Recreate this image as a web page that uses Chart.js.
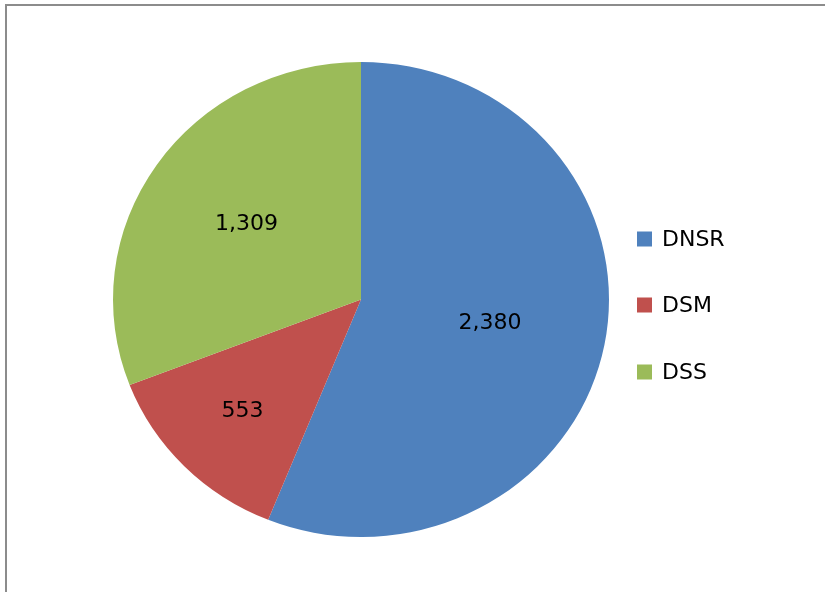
<!DOCTYPE html>
<html>
<head>
<meta charset="utf-8">
<script src="https://cdn.jsdelivr.net/npm/chart.js@4/dist/chart.umd.min.js"></script>
<style>
  html, body { margin: 0; padding: 0; background: #fff; }
  #wrap { position: relative; width: 825px; height: 592px; }
</style>
</head>
<body>
<div id="wrap"><canvas id="c"></canvas></div>
<script>
const categories = ['DNSR', 'DSM', 'DSS'];
const values = [2380, 553, 1309];
const colors = ['#4F81BD', '#C0504D', '#9BBB59'];

const STRETCH_X = 248 / 237.5;
const LABEL_FRACTION = [0.53, 0.67, 0.56];
const FONT = '22px "DejaVu Sans", "Liberation Sans", sans-serif';

const stretchPlugin = {
  id: 'stretch',
  beforeDatasetsDraw(chart) {
    const a = chart.chartArea;
    const cx = (a.left + a.right) / 2, cy = (a.top + a.bottom) / 2;
    const ctx = chart.ctx;
    ctx.save();
    ctx.translate(cx, cy);
    ctx.scale(STRETCH_X, 1);
    ctx.translate(-cx, -cy);
  },
  afterDatasetsDraw(chart) {
    chart.ctx.restore();
  }
};

const labelsPlugin = {
  id: 'labels',
  afterDraw(chart) {
    const ctx = chart.ctx;
    const meta = chart.getDatasetMeta(0);
    ctx.save();
    ctx.font = FONT;
    ctx.fillStyle = '#000';
    ctx.textAlign = 'center';
    ctx.textBaseline = 'middle';
    meta.data.forEach((arc, i) => {
      const p = arc.getProps(['x', 'y', 'startAngle', 'endAngle', 'outerRadius'], true);
      const mid = (p.startAngle + p.endAngle) / 2;
      const r = p.outerRadius * LABEL_FRACTION[i];
      const x = p.x + Math.cos(mid) * r * STRETCH_X;
      const y = p.y + Math.sin(mid) * r;
      ctx.fillText(values[i].toLocaleString('en-US'), x, y);
    });
    // legend
    const lx = 637, ly = [239, 305, 372];
    categories.forEach((name, i) => {
      ctx.fillStyle = colors[i];
      ctx.fillRect(lx, ly[i] - 7.5, 15, 15);
      ctx.fillStyle = '#000';
      ctx.textAlign = 'left';
      ctx.fillText(name, 662, ly[i] + 1);
    });
    // frame
    ctx.strokeStyle = '#8c8c8c';
    ctx.lineWidth = 2;
    ctx.strokeRect(6, 5, 840, 610);
    ctx.restore();
  }
};

new Chart(document.getElementById('c'), {
  type: 'pie',
  data: {
    labels: categories,
    datasets: [{
      data: values,
      backgroundColor: colors,
      borderWidth: 0
    }]
  },
  options: {
    responsive: true,
    maintainAspectRatio: false,
    animation: false,
    layout: { padding: { left: 123.5, right: 226.5, top: 62, bottom: 55 } },
    plugins: {
      legend: { display: false },
      tooltip: { enabled: false }
    }
  },
  plugins: [stretchPlugin, labelsPlugin]
});
</script>
</body>
</html>
